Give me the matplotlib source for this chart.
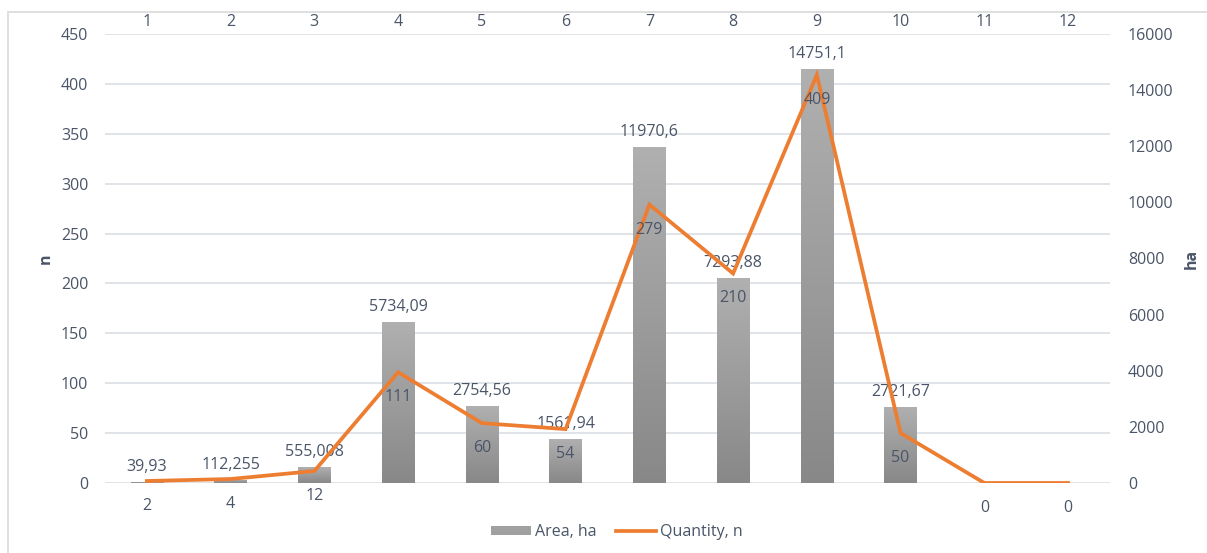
import numpy as np
import matplotlib
matplotlib.use("Agg")
import matplotlib.pyplot as plt
import matplotlib.transforms as mtransforms
from matplotlib.patches import Patch, Rectangle
from matplotlib.lines import Line2D
from matplotlib.colors import LinearSegmentedColormap

plt.rcParams.update({
    "font.family": ["Open Sans", "DejaVu Sans"],
    "font.size": 11.5,
})

# ---------------------------------------------------------------------
# DATA
# ---------------------------------------------------------------------
months = [1, 2, 3, 4, 5, 6, 7, 8, 9, 10, 11, 12]
area_ha = [39.93, 112.255, 555.008, 5734.09, 2754.56, 1561.94,
           11970.6, 7293.88, 14751.1, 2721.67, np.nan, np.nan]
area_labels = ["39,93", "112,255", "555,008", "5734,09", "2754,56", "1561,94",
               "11970,6", "7293,88", "14751,1", "2721,67", "", ""]
quantity_n = [2, 4, 12, 111, 60, 54, 279, 210, 409, 50, 0, 0]
n_ticks = np.arange(0, 451, 50)
ha_ticks = np.arange(0, 16001, 2000)

TEXT = "#4a5568"
GRID = "#dde1e6"
ORANGE = "#ED7D31"
FS = 11.5

# ---------------------------------------------------------------------
fig = plt.figure(figsize=(12.07, 5.53), dpi=100)
ax1 = fig.add_axes([0.087, 0.1266, 0.8326, 0.8119])
ax2 = ax1.twinx()
ax1.set_ylim(0, 450)
ax2.set_ylim(0, 16000)

# chart border
fig.patches.append(Rectangle((8 / 1207, -0.1), 1.2, 1 - 12 / 553 + 0.1,
                             transform=fig.transFigure, fill=False,
                             ec="#d9d9d9", lw=1.2))

# gridlines of the n axis, drawn behind the bars
trans = mtransforms.blended_transform_factory(ax2.transAxes, ax1.transData)
ax2.hlines(n_ticks, 0, 1, transform=trans, color=GRID, lw=1.3, zorder=1)

# bars on ha axis (right)
bars = ax2.bar(months, np.nan_to_num(area_ha), width=0.39, color="#a0a0a0", zorder=2)
cmap = LinearSegmentedColormap.from_list("g", ["#888888", "#b0b0b0"])
grad = np.linspace(0, 1, 256).reshape(-1, 1)
for b in bars:
    if b.get_height() <= 0:
        continue
    x0, y0 = b.get_x(), b.get_y()
    im = ax2.imshow(grad, cmap=cmap, origin="lower", aspect="auto",
                    extent=[x0, x0 + b.get_width(), y0, y0 + b.get_height()],
                    zorder=2.1)
    im.set_clip_path(b)
ax2.set_xlim(0.5, 12.5)
ax2.set_ylim(0, 16000)

for m, v, lab in zip(months, area_ha, area_labels):
    if lab:
        ax2.annotate(lab, (m, v), xytext=(0, 5), textcoords="offset points",
                     ha="center", va="bottom", color=TEXT, fontsize=FS)

# line on n axis (left), drawn above bars
ax1.set_zorder(ax2.get_zorder() + 1)
ax1.patch.set_visible(False)
ax1.plot(months, quantity_n, color=ORANGE, lw=2.7, solid_joinstyle="miter", zorder=3)
for m, v in zip(months, quantity_n):
    ax1.annotate(str(v), (m, v), xytext=(0, -18), textcoords="offset points",
                 ha="center", va="center", color=TEXT, fontsize=FS)

# axes styling
ax1.set_xlim(0.5, 12.5)
ax1.set_xticks(months)
ax1.set_yticks(n_ticks)
ax2.set_yticks(ha_ticks)
ax1.xaxis.tick_top()
ax1.tick_params(axis="x", length=0, pad=3, colors=TEXT, labelsize=FS)
ax1.tick_params(axis="y", length=0, pad=12, colors=TEXT, labelsize=FS)
ax2.tick_params(axis="y", length=0, pad=13, colors=TEXT, labelsize=FS)
for a in (ax1, ax2):
    for s in a.spines.values():
        s.set_visible(False)
ax1.set_ylabel("n", color=TEXT, fontweight="bold", labelpad=5, fontsize=FS)
ax2.set_ylabel("ha", color=TEXT, fontweight="bold", rotation=90, labelpad=7, fontsize=FS)

# legend
handles = [Patch(facecolor="#a0a0a0", label="Area, ha"),
           Line2D([0], [0], color=ORANGE, lw=2.7, label="Quantity, n")]
fig.legend(handles=handles, loc="center", bbox_to_anchor=(0.511, 0.038), ncol=2,
           frameon=False, labelcolor=TEXT, fontsize=FS, handlelength=2.5,
           handleheight=0.45, columnspacing=1.2, handletextpad=0.25)

fig.savefig("out.png", dpi=100)
